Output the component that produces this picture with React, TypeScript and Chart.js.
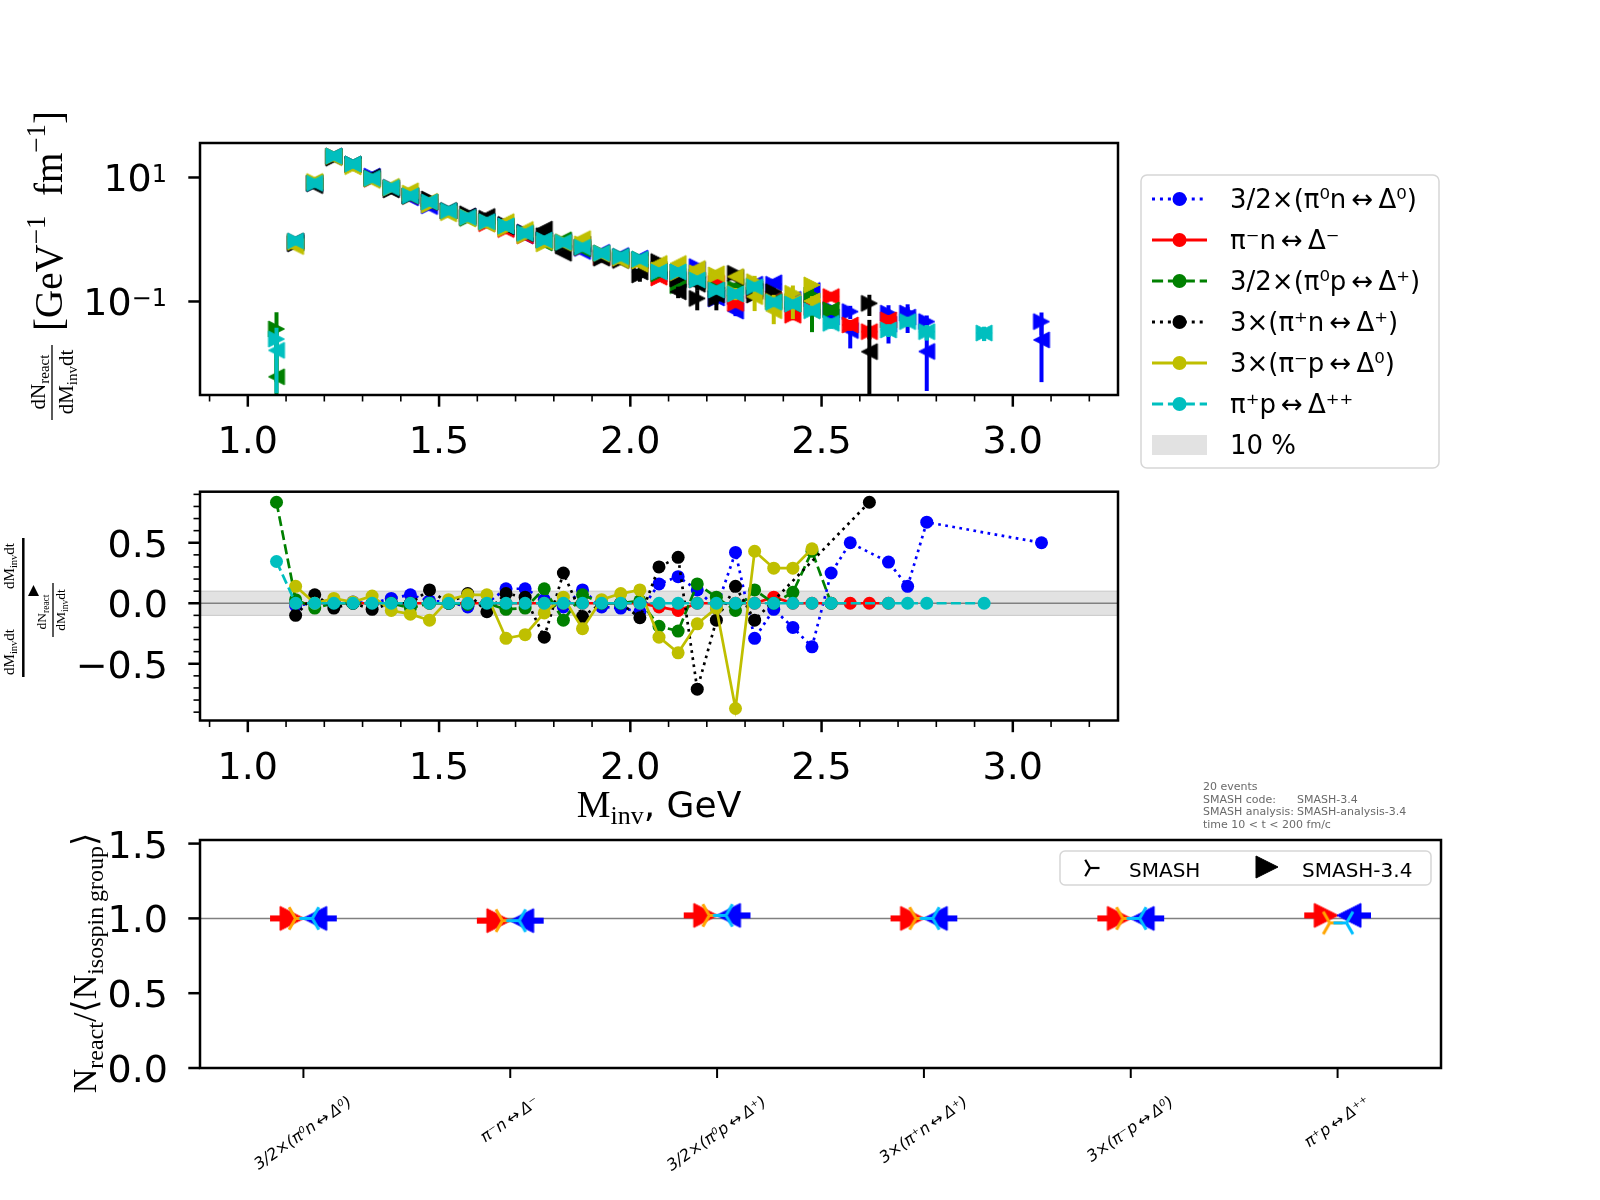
import { useEffect, useRef } from 'react';
import { Chart, registerables } from 'chart.js';

Chart.register(...registerables);

// invariant-mass bin centres, GeV
const massBins = [
  1.075, 1.125, 1.175, 1.225, 1.275, 1.325, 1.375, 1.425, 1.475, 1.525,
  1.575, 1.625, 1.675, 1.725, 1.775, 1.825, 1.875, 1.925, 1.975, 2.025,
  2.075, 2.125, 2.175, 2.225, 2.275, 2.325, 2.375, 2.425, 2.475, 2.525,
  2.575, 2.625, 2.675, 2.725, 2.775, 2.825, 2.875, 2.925, 2.975, 3.025,
  3.075,
];

const reactions = [
  '3/2×(π⁰n\u2009↔\u2009Δ⁰)',
  'π⁻n\u2009↔\u2009Δ⁻',
  '3/2×(π⁰p\u2009↔\u2009Δ⁺)',
  '3×(π⁺n\u2009↔\u2009Δ⁺)',
  '3×(π⁻p\u2009↔\u2009Δ⁰)',
  'π⁺p\u2009↔\u2009Δ⁺⁺',
];

// dN/dM dt, forward (right triangles) and backward (left triangles), with errors
const fwdBlue = [
  null, 0.87, 8.0, 22.0, 16.5, 10.5, 6.9, 5.1, 3.5, 2.9,
  2.3, 1.95, 1.7, 1.3, 0.98, 0.9, 0.72, 0.6, 0.53, 0.47,
  0.33, 0.3, 0.365, 0.11, 0.12, 0.15, 0.19, 0.09, 0.11, 0.075,
  0.0686, null, 0.065, 0.065, 0.0474, null, null, null, null, null,
  0.0474,
];
const bwdBlue = [
  null, 0.89, 8.0, 22.0, 16.3, 10.5, 6.6, 4.7, 3.4, 2.9,
  2.37, 1.95, 1.5, 1.14, 0.95, 0.93, 0.64, 0.62, 0.55, 0.5,
  0.28, 0.23, 0.325, 0.114, 0.07, 0.19, 0.2, 0.108, 0.15, 0.056,
  0.034, null, 0.043, 0.056, 0.0156, null, null, null, null, null,
  0.024,
];
const errBlue = [
  0, 0, 0, 0, 0, 0, 0, 0, 0, 0,
  0, 0, 0, 0, 0, 0, 0, 0, 0, 0,
  0.015, 0.015, 0.02, 0.02, 0.012, 0.02, 0.02, 0.015, 0.02, 0.012,
  0.0165, 0, 0.022, 0.025, 0.012, 0, 0, 0, 0, 0,
  0.019,
];

const fwdRed = [
  null, 0.93, 8.1, 22.0, 16.3, 9.4, 6.8, 5.0, 4.0, 2.9,
  2.25, 1.8, 1.45, 1.15, 0.96, 0.88, 0.74, 0.52, 0.48, 0.45,
  0.24, 0.24, 0.222, 0.196, 0.0935, 0.15, 0.11, 0.06, 0.08, 0.12,
  0.0418, 0.0326, 0.0504, null, null, null, null, null, null, null,
  null,
];
const bwdRed = [
  null, 0.93, 8.1, 22.0, 16.3, 9.4, 6.8, 5.0, 4.0, 2.9,
  2.25, 1.8, 1.45, 1.15, 0.96, 0.88, 0.74, 0.52, 0.48, 0.45,
  0.247, 0.254, 0.222, 0.196, 0.0935, 0.15, 0.105, 0.06, 0.08, 0.12,
  0.0418, 0.0326, 0.0504, null, null, null, null, null, null, null,
  null,
];
const errRed = [
  0, 0, 0, 0, 0, 0, 0, 0, 0, 0,
  0, 0, 0, 0, 0, 0, 0, 0, 0, 0,
  0.01, 0.01, 0.01, 0.015, 0.01, 0.015, 0.012, 0.01, 0.012, 0.015,
  0.008, 0.008, 0.01, 0, 0, 0, 0, 0, 0, 0,
  0,
];

const fwdGreen = [
  0.036, 0.9, 8.1, 22.0, 16.4, 9.6, 6.8, 5.0, 4.0, 2.9,
  2.2, 1.95, 1.6, 1.25, 1.0, 0.87, 0.75, 0.6, 0.53, 0.48,
  0.28, 0.18, 0.25, 0.16, 0.163, 0.18, 0.1, 0.1, 0.127, 0.073,
  null, null, null, null, null, null, null, null, null, null,
  null,
];
const bwdGreen = [
  0.0061, 0.87, 8.4, 22.0, 16.4, 9.6, 6.8, 5.2, 4.0, 2.9,
  2.22, 1.95, 1.68, 1.3, 0.88, 0.99, 0.7, 0.6, 0.53, 0.47,
  0.33, 0.22, 0.21, 0.152, 0.173, 0.16, 0.1, 0.091, 0.072, 0.073,
  null, null, null, null, null, null, null, null, null, null,
  null,
];
const errGreen = [
  0.031, 0, 0, 0, 0, 0, 0, 0, 0, 0,
  0, 0, 0, 0, 0, 0, 0, 0, 0, 0,
  0.015, 0.015, 0.015, 0.015, 0.015, 0.015, 0.012, 0.012, 0.04, 0.012,
  0, 0, 0, 0, 0, 0, 0, 0, 0, 0,
  0,
];

const fwdBlack = [
  null, 0.85, 8.0, 20.5, 16.0, 9.8, 6.3, 5.0, 4.5, 2.9,
  2.6, 2.2, 1.75, 1.3, 1.15, 0.8, 0.76, 0.5, 0.46, 0.268,
  0.44, 0.23, 0.112, 0.112, 0.284, 0.127, 0.144, null, null, null,
  null, 0.0933, null, null, null, null, null, null, null, null,
  null,
];
const bwdBlack = [
  null, 0.94, 7.4, 21.3, 16.0, 10.3, 6.3, 5.0, 4.0, 2.9,
  2.4, 2.35, 1.6, 1.24, 1.47, 0.6, 0.84, 0.5, 0.46, 0.3,
  0.31, 0.143, 0.19, 0.128, 0.244, 0.145, null, null, null, null,
  null, 0.0155, null, null, null, null, null, null, null, null,
  null,
];
const errBlack = [
  0, 0, 0, 0, 0, 0, 0, 0, 0, 0,
  0, 0, 0, 0, 0, 0, 0, 0, 0, 0.06,
  0.04, 0.03, 0.04, 0.04, 0.02, 0.02, 0.02, 0, 0, 0,
  0, 0.035, 0, 0, 0, 0, 0, 0, 0, 0,
  0,
];

const fwdYellow = [
  null, 0.9, 8.6, 22.0, 15.0, 9.6, 6.8, 5.6, 3.6, 2.7,
  2.3, 1.9, 1.5, 1.15, 0.85, 0.92, 0.85, 0.6, 0.5, 0.45,
  0.32, 0.29, 0.29, 0.268, 0.135, 0.209, 0.1, 0.136, 0.185, null,
  null, null, null, null, null, null, null, null, null, null,
  null,
];
const bwdYellow = [
  null, 0.77, 8.6, 21.1, 14.9, 9.0, 7.2, 6.1, 4.1, 2.6,
  2.14, 1.77, 1.94, 1.45, 0.92, 0.87, 1.03, 0.58, 0.46, 0.4,
  0.41, 0.41, 0.34, 0.28, 0.252, 0.12, 0.071, 0.097, 0.102, null,
  null, null, null, null, null, null, null, null, null, null,
  null,
];
const errYellow = [
  0, 0, 0, 0, 0, 0, 0, 0, 0, 0,
  0, 0, 0, 0, 0, 0, 0, 0, 0, 0,
  0.02, 0.02, 0.02, 0.02, 0.03, 0.05, 0.028, 0.045, 0.02, 0,
  0, 0, 0, 0, 0, 0, 0, 0, 0, 0,
  0,
];

const fwdCyan = [
  0.0247, 0.95, 8.06, 22.2, 16.5, 9.7, 6.86, 5.04, 4.03, 2.92,
  2.28, 1.94, 1.65, 1.26, 0.98, 0.9, 0.75, 0.6, 0.53, 0.48,
  0.3, 0.3, 0.222, 0.153, 0.132, 0.173, 0.097, 0.091, 0.071, 0.0445,
  null, null, 0.0347, 0.0474, 0.0326, null, null, 0.031, null, null,
  null,
];
const bwdCyan = [
  0.0163, 0.95, 8.06, 22.2, 16.5, 9.7, 6.86, 5.04, 4.03, 2.92,
  2.28, 1.94, 1.65, 1.26, 0.98, 0.9, 0.75, 0.6, 0.53, 0.48,
  0.3, 0.3, 0.222, 0.153, 0.132, 0.173, 0.097, 0.091, 0.071, 0.0445,
  null, null, 0.0347, 0.0474, 0.0326, null, null, 0.031, null, null,
  null,
];
const errCyan = [
  0.013, 0, 0, 0, 0, 0, 0, 0, 0, 0,
  0, 0, 0, 0, 0, 0, 0, 0, 0, 0,
  0, 0, 0, 0, 0, 0, 0, 0, 0, 0.008,
  0, 0, 0.008, 0.008, 0.009, 0, 0, 0.008, 0, 0,
  0,
];

// relative difference forward vs backward
const diffBlue = [
  null, -0.02, 0, 0, 0.01, 0, 0.04, 0.07, 0.02, 0.01,
  -0.03, 0, 0.12, 0.12, 0.03, -0.03, 0.11, -0.03, -0.04, -0.07,
  0.16, 0.22, 0.11, -0.04, 0.42, -0.29, -0.05, -0.2, -0.36, 0.25,
  0.5, null, 0.34, 0.14, 0.67, null, null, null, null, null,
  0.5,
];
const diffRed = [
  null, 0, 0, 0, 0, 0, 0, 0, 0, 0,
  0, 0, 0, 0, 0, 0, 0, 0, 0, 0,
  -0.03, -0.06, 0, 0, 0, 0, 0.05, 0, 0, 0,
  0, 0, 0, null, null, null, null, null, null, null,
  null,
];
const diffGreen = [
  0.835, 0.03, -0.04, 0, 0, 0, 0, -0.04, 0, 0,
  -0.01, 0, -0.05, -0.04, 0.12, -0.14, 0.07, 0, 0, 0.02,
  -0.19, -0.23, 0.16, 0.05, -0.06, 0.11, 0, 0.09, 0.43, 0,
  null, null, null, null, null, null, null, null, null, null,
  null,
];
const diffBlack = [
  null, -0.1, 0.07, -0.04, 0, -0.05, 0, 0, 0.11, 0,
  0.08, -0.07, 0.08, 0.05, -0.28, 0.25, -0.11, 0, 0, -0.12,
  0.3, 0.38, -0.71, -0.14, 0.14, -0.14, null, null, null, null,
  null, 0.835, null, null, null, null, null, null, null, null,
  null,
];
const diffYellow = [
  null, 0.14, 0, 0.04, 0.01, 0.06, -0.06, -0.09, -0.14, 0.03,
  0.07, 0.07, -0.29, -0.26, -0.08, 0.05, -0.21, 0.03, 0.08, 0.11,
  -0.28, -0.41, -0.17, -0.04, -0.87, 0.43, 0.29, 0.29, 0.45, null,
  null, null, null, null, null, null, null, null, null, null,
  null,
];
const diffCyan = [
  0.345, 0, 0, 0, 0, 0, 0, 0, 0, 0,
  0, 0, 0, 0, 0, 0, 0, 0, 0, 0,
  0, 0, 0, 0, 0, 0, 0, 0, 0, 0,
  null, null, 0, 0, 0, null, null, 0, null, null,
  null,
];

// N_react / <N_isospin group> per reaction
const ratioFwd34 = [1.0, 0.985, 1.02, 1.0, 1.0, 1.02];
const ratioBwd34 = [1.0, 0.985, 1.02, 1.0, 1.0, 1.02];
const ratioFwdRef = [1.0, 0.985, 1.02, 1.0, 1.0, 0.97];
const ratioBwdRef = [1.0, 0.985, 1.02, 1.0, 1.0, 0.97];

const xMajor = [1.0, 1.5, 2.0, 2.5, 3.0];
const xMinor = Array.from({ length: 24 }, (_, i) => 0.9 + i * 0.1);
const yLogTicks = [0.1, 10];
const yLogExp = ['−1', '1'];
const yDiffMajor = [-0.5, 0, 0.5];
const yDiffMinor = Array.from({ length: 19 }, (_, i) => -0.9 + i * 0.1);
const yRatioTicks = [0, 0.5, 1.0, 1.5];
const bandHalf = 0.1;
const ratioRef = 1.0;
const infoLines = [
  ['20 events', ''],
  ['SMASH code:', 'SMASH-3.4'],
  ['SMASH analysis:', 'SMASH-analysis-3.4'],
  ['time 10 < t < 200 fm/c', ''],
];

const topSeries = [
  { fwd: fwdBlue, bwd: bwdBlue, err: errBlue },
  { fwd: fwdRed, bwd: bwdRed, err: errRed },
  { fwd: fwdGreen, bwd: bwdGreen, err: errGreen },
  { fwd: fwdBlack, bwd: bwdBlack, err: errBlack },
  { fwd: fwdYellow, bwd: bwdYellow, err: errYellow },
  { fwd: fwdCyan, bwd: bwdCyan, err: errCyan },
];
const diffSeries = [diffBlue, diffRed, diffGreen, diffBlack, diffYellow, diffCyan];

const colors = ['#0000ff', '#ff0000', '#008000', '#000000', '#bfbf00', '#00bfbf'];
const LW = 2.7;
const dotted = [LW, 1.65 * LW];
const dashed = [3.7 * LW, 1.6 * LW];
const dashes = [dotted, [], dashed, dotted, [], dashed];
const BAND = '#e2e2e2';

const SERIF = '"Liberation Serif", "DejaVu Serif", serif';
const SANS = '"DejaVu Sans", sans-serif';
const serif = (px: number) => `${px}px ${SERIF}`;
const sans = (px: number, style = '') => `${style} ${px}px ${SANS}`;

type Seg = [string, string, number];

function drawRich(ctx: CanvasRenderingContext2D, segs: Seg[], x: number, y: number, align: string) {
  let total = 0;
  const widths = segs.map(([t, f]) => {
    ctx.font = f;
    const w = ctx.measureText(t).width;
    total += w;
    return w;
  });
  let cx = align === 'left' ? x : align === 'center' ? x - total / 2 : x - total;
  ctx.textAlign = 'left';
  ctx.textBaseline = 'alphabetic';
  segs.forEach(([t, f, dy], i) => {
    ctx.font = f;
    ctx.fillText(t, cx, y + dy);
    cx += widths[i];
  });
}

function drawRotated(ctx: CanvasRenderingContext2D, segs: Seg[], px: number, py: number) {
  ctx.save();
  ctx.translate(px, py);
  ctx.rotate(-Math.PI / 2);
  drawRich(ctx, segs, 0, 0, 'center');
  ctx.restore();
}

function line(ctx: CanvasRenderingContext2D, x1: number, y1: number, x2: number, y2: number, w: number) {
  ctx.lineWidth = w;
  ctx.beginPath();
  ctx.moveTo(x1, y1);
  ctx.lineTo(x2, y2);
  ctx.stroke();
}

function frame(ctx: CanvasRenderingContext2D, a: any) {
  ctx.strokeStyle = '#000';
  ctx.lineWidth = 2.5;
  ctx.setLineDash([]);
  ctx.strokeRect(a.left, a.top, a.right - a.left, a.bottom - a.top);
}

function makeTriangle(color: string, dir: number, size: number, tail = 0) {
  const half = size / 2;
  const w = Math.ceil(2 * (half + tail) + 4);
  const h = Math.ceil(size + 4);
  const c = document.createElement('canvas');
  c.width = w;
  c.height = h;
  const g = c.getContext('2d')!;
  const cx = w / 2;
  const cy = h / 2;
  g.fillStyle = color;
  g.strokeStyle = color;
  g.lineWidth = 1;
  g.beginPath();
  g.moveTo(cx + dir * half, cy);
  g.lineTo(cx - dir * half, cy - half);
  g.lineTo(cx - dir * half, cy + half);
  g.closePath();
  g.fill();
  g.stroke();
  if (tail > 0) {
    g.lineWidth = 6;
    g.beginPath();
    g.moveTo(cx - dir * half, cy);
    g.lineTo(cx - dir * (half + tail), cy);
    g.stroke();
  }
  return c;
}

function makeTri(color: string, dir: number, size: number, lw: number) {
  const half = size / 2;
  const s = Math.ceil(size + lw + 4);
  const c = document.createElement('canvas');
  c.width = s;
  c.height = s;
  const g = c.getContext('2d')!;
  const cx = s / 2;
  const cy = s / 2;
  g.strokeStyle = color;
  g.lineWidth = lw;
  const angles = dir > 0 ? [0, 120, 240] : [180, 60, 300];
  angles.forEach((d) => {
    const r = (d * Math.PI) / 180;
    g.beginPath();
    g.moveTo(cx, cy);
    g.lineTo(cx + half * Math.cos(r), cy - half * Math.sin(r));
    g.stroke();
  });
  return c;
}

const errorBars = {
  id: 'errorBars',
  beforeDatasetDraw(chart: any, args: any) {
    const ds = chart.data.datasets[args.index];
    if (!ds.errColor) return;
    const { ctx, chartArea: a } = chart;
    const xs = chart.scales.x;
    const ys = chart.scales.y;
    ctx.save();
    ctx.beginPath();
    ctx.rect(a.left, a.top, a.right - a.left, a.bottom - a.top);
    ctx.clip();
    ctx.strokeStyle = ds.errColor;
    ds.data.forEach((p: any) => {
      if (!p.e) return;
      const px = xs.getPixelForValue(p.x);
      const lo = p.y - p.e;
      const y1 = lo > 0 ? ys.getPixelForValue(lo) : a.bottom + 10;
      const y2 = ys.getPixelForValue(p.y + p.e);
      line(ctx, px, y1, px, y2, 4);
    });
    ctx.restore();
  },
};

function xTicksAndLabels(ctx: CanvasRenderingContext2D, chart: any) {
  const a = chart.chartArea;
  const xs = chart.scales.x;
  ctx.strokeStyle = '#000';
  xMinor.forEach((v) => {
    if (xMajor.some((m) => Math.abs(m - v) < 1e-6)) return;
    const px = xs.getPixelForValue(v);
    line(ctx, px, a.bottom, px, a.bottom + 6.5, 1.6);
  });
  ctx.fillStyle = '#000';
  xMajor.forEach((v) => {
    const px = xs.getPixelForValue(v);
    line(ctx, px, a.bottom, px, a.bottom + 11.7, 2.5);
    drawRich(ctx, [[v.toFixed(1), sans(38), 0]], px, a.bottom + 58, 'center');
  });
}

function drawTopLegend(ctx: CanvasRenderingContext2D) {
  ctx.save();
  ctx.beginPath();
  ctx.roundRect(1141, 175, 298, 293, 6);
  ctx.fillStyle = 'rgba(255,255,255,0.85)';
  ctx.fill();
  ctx.strokeStyle = '#d6d6d6';
  ctx.lineWidth = 1.5;
  ctx.stroke();
  reactions.forEach((lab, i) => {
    const y = 199 + 41 * i;
    ctx.strokeStyle = colors[i];
    ctx.setLineDash(dashes[i].map((d) => (d * 3) / LW));
    line(ctx, 1152, y, 1207, y, 3);
    ctx.setLineDash([]);
    ctx.fillStyle = colors[i];
    ctx.beginPath();
    ctx.arc(1179.5, y, 7, 0, Math.PI * 2);
    ctx.fill();
    ctx.fillStyle = '#000';
    drawRich(ctx, [[lab, sans(26), 0]], 1230, y + 9, 'left');
  });
  const y = 199 + 41 * 6;
  ctx.fillStyle = BAND;
  ctx.fillRect(1152, y - 10, 55, 20);
  ctx.fillStyle = '#000';
  drawRich(ctx, [['10 %', sans(26), 0]], 1230, y + 9, 'left');
  ctx.restore();
}

const topDecor = {
  id: 'topDecor',
  afterDraw(chart: any) {
    const { ctx, chartArea: a } = chart;
    const ys = chart.scales.y;
    ctx.save();
    frame(ctx, a);
    xTicksAndLabels(ctx, chart);
    ctx.fillStyle = '#000';
    yLogTicks.forEach((v, i) => {
      const py = ys.getPixelForValue(v);
      line(ctx, a.left, py, a.left - 11.7, py, 2.5);
      drawRich(ctx, [['10', sans(38), 0], [yLogExp[i], sans(24), -9.5]], a.left - 33, py + 14, 'right');
    });
    drawRotated(ctx, [
      ['[GeV', serif(39), 0], ['−1', serif(27), -17], ['\u2002fm', serif(39), 0],
      ['−1', serif(27), -17], [']', serif(39), 0],
    ], 62, 221);
    drawRotated(ctx, [['dN', serif(21), 0], ['react', serif(15), 4]], 45, 382);
    ctx.strokeStyle = '#000';
    line(ctx, 52, 345, 52, 420, 1.3);
    drawRotated(ctx, [['dM', serif(21), 0], ['inv', serif(15), 4], ['dt', serif(21), 0]], 73, 382);
    drawTopLegend(ctx);
    ctx.restore();
  },
};

const midDecor = {
  id: 'midDecor',
  beforeDatasetsDraw(chart: any) {
    const { ctx, chartArea: a } = chart;
    const ys = chart.scales.y;
    const y1 = ys.getPixelForValue(bandHalf);
    const y2 = ys.getPixelForValue(-bandHalf);
    ctx.save();
    ctx.fillStyle = BAND;
    ctx.fillRect(a.left, y1, a.right - a.left, y2 - y1);
    ctx.strokeStyle = '#c8c8c8';
    line(ctx, a.left, y1, a.right, y1, 1);
    line(ctx, a.left, y2, a.right, y2, 1);
    ctx.strokeStyle = '#808080';
    const y0 = ys.getPixelForValue(0);
    line(ctx, a.left, y0, a.right, y0, 1.5);
    ctx.restore();
  },
  afterDraw(chart: any) {
    const { ctx, chartArea: a } = chart;
    const ys = chart.scales.y;
    ctx.save();
    frame(ctx, a);
    xTicksAndLabels(ctx, chart);
    yDiffMinor.forEach((v) => {
      if (yDiffMajor.some((m) => Math.abs(m - v) < 1e-6)) return;
      const py = ys.getPixelForValue(v);
      line(ctx, a.left, py, a.left - 6.5, py, 1.6);
    });
    ctx.fillStyle = '#000';
    yDiffMajor.forEach((v) => {
      const py = ys.getPixelForValue(v);
      line(ctx, a.left, py, a.left - 11.7, py, 2.5);
      const lab = (v < 0 ? '\u2212' : '') + Math.abs(v).toFixed(1);
      drawRich(ctx, [[lab, sans(38), 0]], a.left - 32, py + 14, 'right');
    });
    // y-axis label
    line(ctx, 23.3, 68, 23.3, 207, 2.5);
    const grp: Seg[] = [['dM', serif(15), 0], ['inv', serif(10.5), 3], ['dt', serif(15), 0]];
    drawRotated(ctx, grp, 14, 182);
    drawRotated(ctx, grp, 14, 96);
    drawRotated(ctx, [['dN', serif(13.5), 0], ['react', serif(9.5), 3]], 46, 142);
    line(ctx, 53, 113, 53, 167, 1.3);
    drawRotated(ctx, [['dM', serif(13.5), 0], ['inv', serif(9.5), 3], ['dt', serif(13.5), 0]], 65, 140);
    ctx.beginPath();
    ctx.moveTo(33.5, 115);
    ctx.lineTo(28, 126);
    ctx.lineTo(39, 126);
    ctx.closePath();
    ctx.fill();
    // x-axis label
    drawRich(ctx, [['M', serif(38), 0], ['inv', serif(26), 7], [', GeV', sans(36), 0]], (a.left + a.right) / 2, 347, 'center');
    ctx.restore();
  },
};

const botDecor = {
  id: 'botDecor',
  beforeDatasetsDraw(chart: any) {
    const { ctx, chartArea: a } = chart;
    const py = chart.scales.y.getPixelForValue(ratioRef);
    ctx.save();
    ctx.strokeStyle = '#808080';
    line(ctx, a.left, py, a.right, py, 1.5);
    ctx.restore();
  },
  afterDraw(chart: any) {
    const { ctx, chartArea: a } = chart;
    const xs = chart.scales.x;
    const ys = chart.scales.y;
    ctx.save();
    frame(ctx, a);
    ctx.fillStyle = '#000';
    yRatioTicks.forEach((v) => {
      const py = ys.getPixelForValue(v);
      line(ctx, a.left, py, a.left - 11.7, py, 2.5);
      drawRich(ctx, [[v.toFixed(1), sans(38), 0]], a.left - 32, py + 14, 'right');
    });
    const th = (35 * Math.PI) / 180;
    reactions.forEach((lab, i) => {
      const px = xs.getPixelForValue(i);
      line(ctx, px, a.bottom, px, a.bottom + 10, 2);
      ctx.font = sans(16, 'italic');
      const w = ctx.measureText(lab).width;
      const H = w * Math.sin(th) + 14 * Math.cos(th);
      ctx.save();
      ctx.translate(px, a.bottom + 27 + H / 2);
      ctx.rotate(-th);
      ctx.textAlign = 'center';
      ctx.textBaseline = 'middle';
      ctx.fillText(lab, 0, 0);
      ctx.restore();
    });
    drawRotated(ctx, [
      ['N', serif(34), 0], ['react', serif(24), 7], ['/⟨', serif(34), 0],
      ['N', serif(34), 0], ['isospin\u2009group', serif(24), 7], ['⟩', serif(34), 0],
    ], 96, 193);
    // run info
    ctx.fillStyle = '#6a6a6a';
    infoLines.forEach(([k, v], i) => {
      const y = 20 + 12.5 * i;
      drawRich(ctx, [[k, sans(11), 0]], 1203, y, 'left');
      if (v) drawRich(ctx, [[v, sans(11), 0]], 1297, y, 'left');
    });
    // legend
    ctx.beginPath();
    ctx.roundRect(1060, 81, 371, 34, 5);
    ctx.fillStyle = 'rgba(255,255,255,0.85)';
    ctx.fill();
    ctx.strokeStyle = '#d6d6d6';
    ctx.lineWidth = 1.5;
    ctx.stroke();
    const tri = makeTri('#000', 1, 19, 2.2);
    ctx.drawImage(tri, 1090 - tri.width / 2, 98 - tri.height / 2);
    const tg = makeTriangle('#000', 1, 22);
    ctx.drawImage(tg, 1267 - tg.width / 2, 97 - tg.height / 2);
    ctx.fillStyle = '#000';
    drawRich(ctx, [['SMASH', sans(20), 0]], 1129, 107, 'left');
    drawRich(ctx, [['SMASH-3.4', sans(20), 0]], 1302, 107, 'left');
    ctx.restore();
  },
};

function axis(extra: any, size: number, dim: 'width' | 'height') {
  return {
    ...extra,
    grid: { display: false },
    border: { display: false },
    ticks: { display: false },
    afterFit: (s: any) => {
      s[dim] = size;
    },
  };
}

function baseOptions(padding: any, x: any, y: any) {
  return {
    responsive: false,
    animation: false as const,
    events: [],
    layout: { padding },
    plugins: { legend: { display: false }, tooltip: { enabled: false } },
    scales: { x, y },
  };
}

function buildTop(canvas: HTMLCanvasElement) {
  const datasets: any[] = [];
  topSeries.forEach((s, r) => {
    const color = colors[r];
    const pairs: [any[], number][] = [[s.fwd, 1], [s.bwd, -1]];
    pairs.forEach(([vals, dir]) => {
      const data = massBins
        .map((x, i) => ({ x, y: vals[i], e: s.err[i] }))
        .filter((p) => p.y !== null);
      datasets.push({
        label: reactions[r],
        data,
        showLine: false,
        pointStyle: makeTriangle(color, dir, 16),
        pointRadius: 8,
        backgroundColor: color,
        borderColor: color,
        errColor: color,
        order: -datasets.length,
      });
    });
  });
  return new Chart(canvas, {
    type: 'scatter',
    data: { datasets },
    options: baseOptions(
      { top: 143, right: 482, bottom: 0, left: 0 },
      axis({ type: 'linear', min: 0.875, max: 3.275 }, 75, 'height'),
      axis({ type: 'logarithmic', min: 0.0031, max: 36 }, 200, 'width'),
    ) as any,
    plugins: [errorBars, topDecor],
  });
}

function buildMid(canvas: HTMLCanvasElement) {
  const datasets = diffSeries.map((vals, r) => ({
    label: reactions[r],
    data: massBins.map((x, i) => ({ x, y: vals[i] })).filter((p) => p.y !== null),
    borderColor: colors[r],
    backgroundColor: colors[r],
    borderWidth: LW,
    borderDash: dashes[r],
    borderCapStyle: 'butt',
    pointRadius: 6.5,
    pointBorderWidth: 0,
    pointBackgroundColor: colors[r],
    tension: 0,
    fill: false,
    order: -r,
  }));
  return new Chart(canvas, {
    type: 'line',
    data: { datasets } as any,
    options: baseOptions(
      { top: 21.7, right: 482, bottom: 0, left: 0 },
      axis({ type: 'linear', min: 0.875, max: 3.275 }, 109.5, 'height'),
      axis({ type: 'linear', min: -0.969, max: 0.922 }, 200, 'width'),
    ) as any,
    plugins: [midDecor],
  });
}

function buildBot(canvas: HTMLCanvasElement) {
  const specs = [
    { vals: ratioFwd34, marker: makeTriangle('#ff0000', 1, 24, 10), dx: -0.055 },
    { vals: ratioFwdRef, marker: makeTri('#ffa500', 1, 26, 3), dx: -0.038 },
    { vals: ratioBwd34, marker: makeTriangle('#0000ff', -1, 24, 10), dx: 0.055 },
    { vals: ratioBwdRef, marker: makeTri('#00bfff', -1, 26, 3), dx: 0.043 },
  ];
  const datasets = specs.map((s, i) => ({
    data: s.vals.map((y, k) => ({ x: k + s.dx, y })),
    showLine: false,
    pointStyle: s.marker,
    pointRadius: 10,
    order: -i,
  }));
  return new Chart(canvas, {
    type: 'scatter',
    data: { datasets } as any,
    options: baseOptions(
      { top: 70, right: 159, bottom: 0, left: 0 },
      axis({ type: 'linear', min: -0.5, max: 5.5 }, 132, 'height'),
      axis({ type: 'linear', min: 0, max: 1.524 }, 200, 'width'),
    ) as any,
    plugins: [botDecor],
  });
}

export default function App() {
  const topRef = useRef<HTMLCanvasElement>(null);
  const midRef = useRef<HTMLCanvasElement>(null);
  const botRef = useRef<HTMLCanvasElement>(null);

  useEffect(() => {
    const charts: Chart[] = [];
    if (topRef.current) charts.push(buildTop(topRef.current));
    if (midRef.current) charts.push(buildMid(midRef.current));
    if (botRef.current) charts.push(buildBot(botRef.current));
    return () => charts.forEach((c) => c.destroy());
  }, []);

  const cv = (top: number, h: number) => ({
    position: 'absolute' as const,
    left: 0,
    top,
    width: 1600,
    height: h,
  });

  return (
    <div style={{ position: 'absolute', left: 0, top: 0, width: 1600, height: 1200, background: '#fff' }}>
      <canvas ref={topRef} width={1600} height={470} style={cv(0, 470)} />
      <canvas ref={midRef} width={1600} height={360} style={cv(470, 360)} />
      <canvas ref={botRef} width={1600} height={430} style={cv(770, 430)} />
    </div>
  );
}
